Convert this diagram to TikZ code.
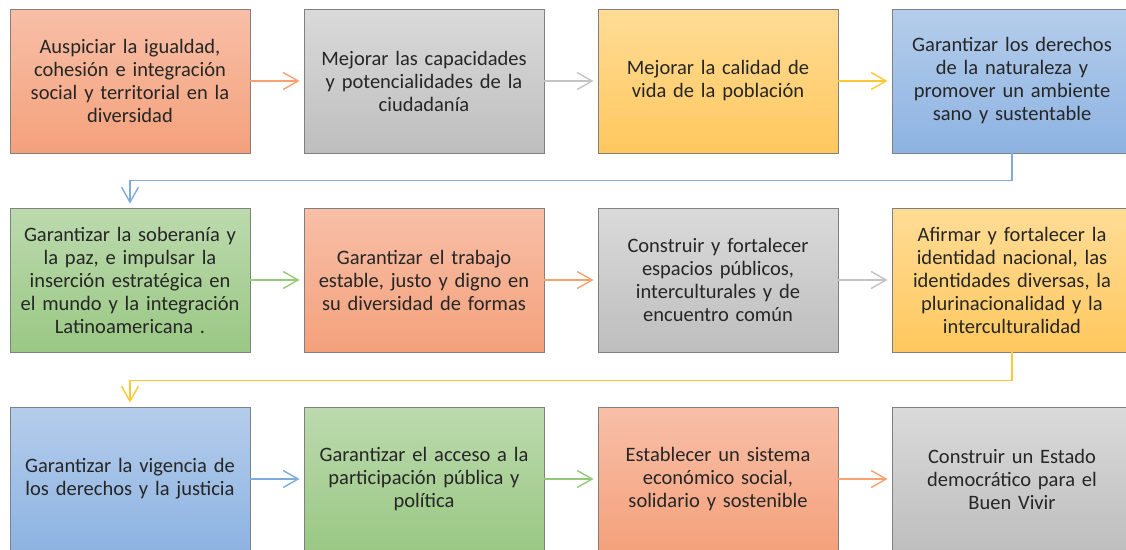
\documentclass[tikz,border=0pt]{standalone}
\usepackage{fontspec}
\setmainfont{Carlito}
\usetikzlibrary{arrows.meta,shadings,calc}
\definecolor{topnaranja}{HTML}{F8BFA8}
\definecolor{botnaranja}{HTML}{F4A17B}
\definecolor{flnaranja}{HTML}{F5A170}
\definecolor{topgris}{HTML}{DADADA}
\definecolor{botgris}{HTML}{BEBEBE}
\definecolor{flgris}{HTML}{C3C3C3}
\definecolor{topamarillo}{HTML}{FFDC96}
\definecolor{botamarillo}{HTML}{FFC85E}
\definecolor{flamarillo}{HTML}{FFC733}
\definecolor{topazul}{HTML}{B5CDEB}
\definecolor{botazul}{HTML}{8DB3E2}
\definecolor{flazul}{HTML}{7FAADF}
\definecolor{topverde}{HTML}{BCDAAE}
\definecolor{botverde}{HTML}{9AC884}
\definecolor{flverde}{HTML}{94C97A}
\tikzstyle{caja}=[rectangle,draw=black!50,line width=0.9pt,minimum width=240pt,minimum height=144pt,inner sep=0pt,text width=236pt,align=center,text=black!85,font=\fontsize{20.5}{23}\selectfont]
\tikzstyle{flecha}=[draw,line width=1.4pt,->,shorten >=4pt]

\begin{document}
\begin{tikzpicture}[x=1pt,y=1pt,>={Straight Barb[length=15pt,width=17pt]}]
\useasboundingbox (0,0) rectangle (1126,-549);

   \def\dx{294}
   \def\dy{199}

% Objetivos
    \foreach \pos/\name/\col/\txt in {
      {(130,-81)/a/naranja/{Auspiciar la igualdad,\\cohesión e integración\\social y territorial en la\\diversidad}},
      {(130+\dx,-81)/b/gris/{Mejorar las capacidades\\y potencialidades de la\\ciudadanía}},
      {(130+2*\dx,-81)/c/amarillo/{Mejorar la calidad de\\vida de la población}},
      {(130+3*\dx,-81)/d/azul/{Garantizar los derechos\\de la naturaleza y\\promover un ambiente\\sano y sustentable}},
      {(130,-81-\dy)/e/verde/{Garantizar la soberanía y\\la paz, e impulsar la\\inserción estratégica en\\el mundo y la integración\\Latinoamericana .}},
      {(130+\dx,-81-\dy)/f/naranja/{Garantizar el trabajo\\estable, justo y digno en\\su diversidad de formas}},
      {(130+2*\dx,-81-\dy)/g/gris/{Construir y fortalecer\\espacios públicos,\\interculturales y de\\encuentro común}},
      {(130+3*\dx,-81-\dy)/h/amarillo/{Afirmar y fortalecer la\\identidad nacional, las\\identidades diversas, la\\plurinacionalidad y la\\interculturalidad}},
      {(130,-81-2*\dy)/i/azul/{Garantizar la vigencia de\\los derechos y la justicia}},
      {(130+\dx,-81-2*\dy)/j/verde/{Garantizar el acceso a la\\participación pública y\\política}},
      {(130+2*\dx,-81-2*\dy)/k/naranja/{Establecer un sistema\\económico social,\\solidario y sostenible}},
      {(130+3*\dx,-81-2*\dy)/l/gris/{Construir un Estado\\democrático para el\\Buen Vivir}}}
    	\node[caja,top color=top\col,bottom color=bot\col] (\name) at \pos {\txt};

    % flechas entre cajas
    \foreach \source/ \dest/\col in {a/b/naranja, b/c/gris, c/d/amarillo, e/f/verde, f/g/naranja, g/h/gris, i/j/azul, j/k/verde, k/l/naranja}
        \path[flecha,draw=fl\col] (\source) -- (\dest);

%cambio de fila
    \draw[flecha,draw=flazul] (d.south) -- ++(0,-27) -| (e.north);
    \draw[flecha,draw=flamarillo] (h.south) -- ++(0,-28) -| (i.north);

\end{tikzpicture}
\end{document}
